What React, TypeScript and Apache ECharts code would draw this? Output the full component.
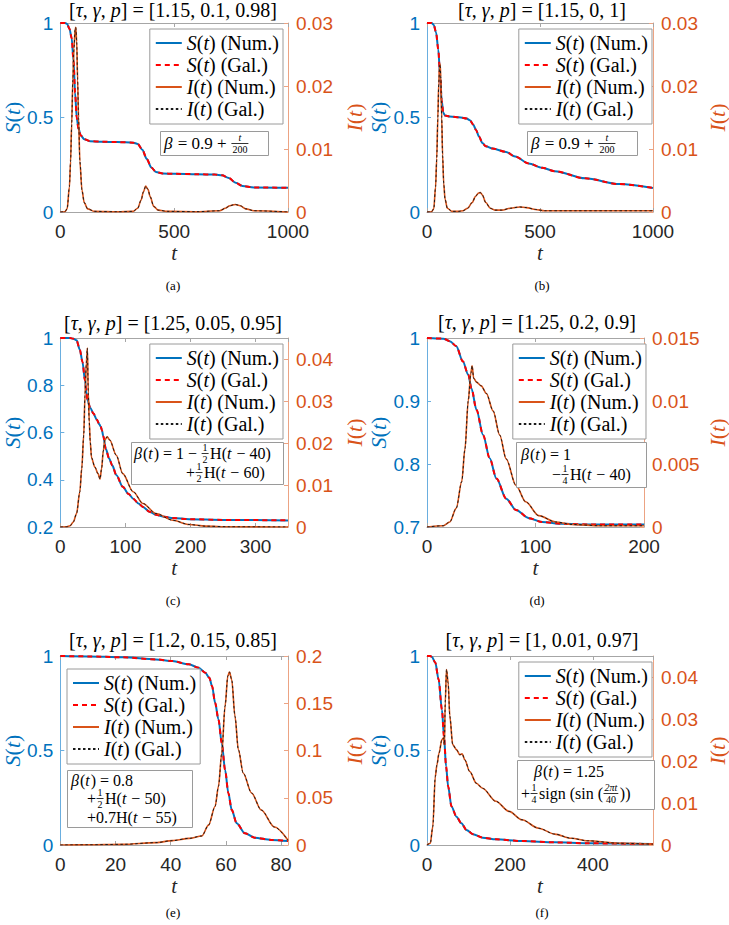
import React, { useEffect, useRef } from 'react';
import * as echarts from 'echarts';

const SERIF = '"Liberation Serif", "Times New Roman", serif';
const SANS = '"Liberation Sans", Arial, Helvetica, sans-serif';
const BLUE = '#0072BD';
const ORANGE = '#D95319';

// ---------- data ----------
// (a) [1.15, 0.1, 0.98]
const tS_a = [0, 20, 30, 40, 50, 58, 65, 72, 80, 90, 105, 130, 180, 250, 320, 340, 360, 380, 400, 420, 450, 500, 600, 680, 710, 740, 770, 800, 850, 1000];
const S_a = [1, 1, 0.995, 0.97, 0.92, 0.8, 0.63, 0.5, 0.44, 0.405, 0.385, 0.375, 0.372, 0.37, 0.367, 0.36, 0.33, 0.28, 0.235, 0.212, 0.204, 0.202, 0.2, 0.198, 0.194, 0.18, 0.155, 0.138, 0.13, 0.128];
const tI_a = [0, 20, 30, 40, 45, 50, 55, 60, 65, 68, 72, 76, 80, 86, 95, 105, 120, 150, 250, 320, 340, 355, 365, 375, 385, 395, 410, 430, 470, 600, 700, 725, 745, 768, 790, 815, 850, 1000];
const I_a = [0, 0.00005, 0.0005, 0.004, 0.008, 0.014, 0.021, 0.026, 0.029, 0.0293, 0.027, 0.021, 0.015, 0.008, 0.0035, 0.0015, 0.0005, 0.0001, 0.00003, 0.0001, 0.0006, 0.0019, 0.0032, 0.0041, 0.0036, 0.0024, 0.0009, 0.0003, 0.0001, 0.00005, 0.0002, 0.0006, 0.001, 0.0012, 0.001, 0.0005, 0.0002, 0];

// (b) [1.15, 0, 1]
const tS_b = [0, 20, 30, 40, 50, 58, 65, 72, 80, 100, 150, 175, 190, 205, 217, 230, 245, 260, 290, 350, 390, 450, 510, 565, 700, 850, 1000];
const S_b = [1, 1, 0.99, 0.95, 0.86, 0.72, 0.59, 0.525, 0.51, 0.505, 0.5, 0.495, 0.485, 0.462, 0.434, 0.4, 0.365, 0.348, 0.336, 0.318, 0.293, 0.257, 0.234, 0.216, 0.178, 0.148, 0.127];
const tI_b = [0, 20, 30, 38, 43, 48, 52, 56, 58, 61, 65, 69, 74, 80, 90, 110, 140, 160, 180, 200, 215, 228, 236, 245, 260, 280, 300, 330, 370, 410, 440, 480, 520, 600, 1000];
const I_b = [0, 0.00005, 0.0005, 0.004, 0.0085, 0.015, 0.0205, 0.0233, 0.0235, 0.0215, 0.015, 0.009, 0.0045, 0.002, 0.0006, 0.0001, 0.0001, 0.0002, 0.0006, 0.0015, 0.0025, 0.003, 0.0031, 0.0027, 0.0015, 0.0006, 0.0003, 0.0003, 0.0006, 0.0008, 0.0007, 0.0004, 0.0002, 0.0002, 0.0002];

// (c) [1.25, 0.05, 0.95]
const tS_c = [0, 15, 20, 25, 30, 34, 38, 40, 42, 46, 51, 56, 60, 62, 64, 66, 70, 75, 80, 86, 96, 105, 112, 120, 127, 137, 147, 160, 173, 198, 250, 350];
const S_c = [1, 1, 0.997, 0.99, 0.95, 0.9, 0.82, 0.77, 0.735, 0.705, 0.68, 0.655, 0.635, 0.625, 0.61, 0.585, 0.53, 0.49, 0.46, 0.42, 0.37, 0.34, 0.32, 0.3, 0.285, 0.265, 0.252, 0.243, 0.238, 0.233, 0.23, 0.228];
const tI_c = [0, 10, 15, 20, 25, 30, 33, 36, 38, 40, 41.6, 43, 44.5, 46, 48, 53, 58, 61, 63.5, 66, 68.5, 72, 76, 86, 96, 112, 127, 147, 173, 198, 223, 260, 350];
const I_c = [0, 0.00005, 0.0003, 0.0012, 0.0032, 0.0084, 0.014, 0.0219, 0.0315, 0.039, 0.0426, 0.032, 0.025, 0.0203, 0.0165, 0.0143, 0.0127, 0.0114, 0.0139, 0.018, 0.0207, 0.0215, 0.0207, 0.0171, 0.0127, 0.0084, 0.0056, 0.0032, 0.0016, 0.0006, 0.0002, 0.00005, 0];

// (d) [1.25, 0.2, 0.9]
const tS_d = [0, 15, 21, 27, 33, 38, 41, 45.6, 51.7, 57.8, 64, 73, 82, 94, 106, 125, 150, 200];
const S_d = [1, 0.999, 0.995, 0.987, 0.963, 0.942, 0.92, 0.886, 0.846, 0.809, 0.777, 0.745, 0.727, 0.714, 0.708, 0.705, 0.704, 0.704];
const tI_d = [0, 15, 21, 27, 32, 35, 38, 40.4, 41.6, 43, 45.6, 50, 54.7, 61, 67, 73, 82, 91, 103, 118.5, 134, 160, 200];
const I_d = [0, 0.0001, 0.0004, 0.0015, 0.0036, 0.0062, 0.01, 0.0122, 0.0128, 0.0118, 0.0115, 0.0112, 0.0106, 0.0092, 0.0073, 0.0054, 0.0033, 0.002, 0.0009, 0.0004, 0.0002, 0.0001, 0.0001];

// (e) [1.2, 0.15, 0.85]
const tS_e = [0, 10, 22.7, 34.6, 40.6, 46.6, 50.1, 52.5, 54, 55, 56.1, 57.3, 58.5, 59.7, 60.9, 62.1, 63.9, 66.9, 70.4, 76.4, 82.5];
const S_e = [1, 0.998, 0.993, 0.982, 0.973, 0.956, 0.938, 0.912, 0.885, 0.84, 0.752, 0.664, 0.54, 0.398, 0.274, 0.186, 0.115, 0.062, 0.039, 0.027, 0.021];
const tI_e = [0, 10, 22.7, 34.6, 40.6, 46.6, 51.3, 53.7, 56.1, 57.3, 58.5, 59.7, 60.7, 61.3, 62.1, 63.3, 64.5, 66.3, 69.3, 72.8, 77.6, 82.5];
const I_e = [0, 0.0002, 0.0007, 0.0025, 0.0046, 0.007, 0.0096, 0.021, 0.041, 0.062, 0.097, 0.147, 0.179, 0.183, 0.175, 0.136, 0.101, 0.076, 0.055, 0.037, 0.019, 0.005];

// (f) [1, 0.01, 0.97]
const tS_f = [0, 8, 12, 20, 28, 36, 41, 46, 51, 59, 71, 83, 95, 111, 134, 166, 229, 308, 387, 545];
const S_f = [1, 1, 0.995, 0.965, 0.876, 0.717, 0.575, 0.416, 0.31, 0.204, 0.15, 0.115, 0.08, 0.057, 0.039, 0.03, 0.021, 0.014, 0.009, 0.005];
const tI_f = [0, 8, 14, 20, 24, 29, 36, 40, 42, 44, 47, 51, 55, 62, 71, 79, 85, 91, 103, 119, 134, 166, 198, 229, 269, 308, 348, 387, 466, 545];
const I_f = [0, 0.0004, 0.0044, 0.0163, 0.0191, 0.0219, 0.0251, 0.0255, 0.0239, 0.0339, 0.0418, 0.0386, 0.0307, 0.0239, 0.0227, 0.0215, 0.0217, 0.0203, 0.0175, 0.0147, 0.0135, 0.0104, 0.008, 0.006, 0.004, 0.0026, 0.0016, 0.001, 0.0004, 0.0002];

const params = ['1.15, 0.1, 0.98', '1.15, 0, 1', '1.25, 0.05, 0.95', '1.25, 0.2, 0.9', '1.2, 0.15, 0.85', '1, 0.01, 0.97'];
const subLabels = ['(a)', '(b)', '(c)', '(d)', '(e)', '(f)'];
const seriesNames = ['S(t) (Num.)', 'S(t) (Gal.)', 'I(t) (Num.)', 'I(t) (Gal.)'];

const panels = [
  { tS: tS_a, S: S_a, tI: tI_a, I: I_a, xMax: 1000, xInt: 500, sMin: 0, sMax: 1, sInt: 0.5, iMax: 0.03, iInt: 0.01 },
  { tS: tS_b, S: S_b, tI: tI_b, I: I_b, xMax: 1000, xInt: 500, sMin: 0, sMax: 1, sInt: 0.5, iMax: 0.03, iInt: 0.01 },
  { tS: tS_c, S: S_c, tI: tI_c, I: I_c, xMax: 350, xInt: 100, sMin: 0.2, sMax: 1, sInt: 0.2, iMax: 0.045, iInt: 0.01 },
  { tS: tS_d, S: S_d, tI: tI_d, I: I_d, xMax: 200, xInt: 100, sMin: 0.7, sMax: 1, sInt: 0.1, iMax: 0.015, iInt: 0.005 },
  { tS: tS_e, S: S_e, tI: tI_e, I: I_e, xMax: 82.5, xInt: 20, sMin: 0, sMax: 1, sInt: 0.5, iMax: 0.2, iInt: 0.05 },
  { tS: tS_f, S: S_f, tI: tI_f, I: I_f, xMax: 545, xInt: 200, sMin: 0, sMax: 1, sInt: 0.5, iMax: 0.045, iInt: 0.01 },
];

// ---------- formula tokens ----------
type Tok = { s?: string; it?: boolean; f?: [string, string]; fit?: boolean };
const B: Tok = { s: 'β', it: true };
const T: Tok = { s: 't', it: true };
const half: Tok = { f: ['1', '2'] };
const quarter: Tok = { f: ['1', '4'] };
const formulas: Tok[][][] = [
  [[B, { s: ' = 0.9 + ' }, { f: ['t', '200'], fit: true }]],
  [[B, { s: ' = 0.9 + ' }, { f: ['t', '200'], fit: true }]],
  [
    [B, { s: '(' }, T, { s: ') = 1 − ' }, half, { s: 'H(' }, T, { s: ' − 40)' }],
    [{ s: '+' }, half, { s: 'H(' }, T, { s: ' − 60)' }],
  ],
  [
    [B, { s: '(' }, T, { s: ') = 1' }],
    [{ s: '−' }, quarter, { s: 'H(' }, T, { s: ' − 40)' }],
  ],
  [
    [B, { s: '(' }, T, { s: ') = 0.8' }],
    [{ s: '+' }, half, { s: 'H(' }, T, { s: ' − 50)' }],
    [{ s: '+0.7H(' }, T, { s: ' − 55)' }],
  ],
  [
    [B, { s: '(' }, T, { s: ') = 1.25' }],
    [{ s: '+' }, quarter, { s: 'sign (sin (' }, { f: ['2πt', '40'], fit: true }, { s: '))' }],
  ],
];

// ---------- layout ----------
const layouts = [
  { grid: { left: 58, top: 23, width: 230, height: 189 }, titleX: 173, titleY: 10, subY: 285, legend: { right: 729 - 283, top: 29 }, lGap: 35, rGap: 55,
    box: { x: 160, y: 131, w: 108, h: 24 }, fs: 17, lines: [{ x: 164, cy: 143 }] },
  { grid: { left: 427, top: 23, width: 230, height: 189 }, titleX: 542, titleY: 10, subY: 285, legend: { right: 729 - 652, top: 29 }, lGap: 38, rGap: 53,
    box: { x: 527, y: 131, w: 110, h: 24 }, fs: 17, lines: [{ x: 531, cy: 143 }] },
  { grid: { left: 58, top: 338, width: 230, height: 189 }, titleX: 173, titleY: 324, subY: 600, legend: { right: 729 - 283, top: 344 }, lGap: 35, rGap: 55,
    box: { x: 131, y: 442, w: 152, h: 42 }, fs: 16, lines: [{ x: 134, cy: 453 }, { x: 186, cy: 472 }] },
  { grid: { left: 427, top: 338, width: 220, height: 189 }, titleX: 537, titleY: 323, subY: 600, legend: { right: 729 - 646, top: 344 }, lGap: 38, rGap: 62,
    box: { x: 516, y: 442, w: 130, h: 45 }, fs: 16, lines: [{ x: 521, cy: 454 }, { x: 552, cy: 474 }] },
  { grid: { left: 58, top: 656, width: 230, height: 189 }, titleX: 173, titleY: 641, subY: 912, legend: { left: 67, top: 669 }, lGap: 36, rGap: 55,
    box: { x: 67, y: 770, w: 125, h: 57 }, fs: 16, lines: [{ x: 71, cy: 780 }, { x: 87, cy: 798 }, { x: 87, cy: 817 }] },
  { grid: { left: 427, top: 656, width: 230, height: 189 }, titleX: 542, titleY: 641, subY: 912, legend: { right: 729 - 652, top: 662 }, lGap: 38, rGap: 53,
    box: { x: 517, y: 760, w: 137, h: 49 }, fs: 16, lines: [{ x: 534, cy: 771 }, { x: 521, cy: 793 }] },
];

const FR = 10;

function txt(x: number, y: number, s: string, size: number, it: boolean, align: string, va: string) {
  return {
    type: 'text', x, y, z: 101, silent: true,
    style: { text: s, fontSize: size, fontFamily: SERIF, fontStyle: it ? 'italic' : 'normal', fill: '#000', align, verticalAlign: va },
  };
}

function formulaEls(ctx: CanvasRenderingContext2D, x0: number, cy: number, toks: Tok[], FS: number) {
  const els: any[] = [];
  let x = x0;
  const font = (size: number, it?: boolean) => `${it ? 'italic ' : ''}${size}px "Liberation Serif"`;
  for (const tk of toks) {
    if (tk.f) {
      ctx.font = font(FR, tk.fit);
      const wn = ctx.measureText(tk.f[0]).width;
      ctx.font = font(FR);
      const wd = ctx.measureText(tk.f[1]).width;
      const w = Math.max(wn, wd) + 3;
      const cx = x + w / 2;
      els.push(txt(cx, cy - 0.5, tk.f[0], FR, !!tk.fit, 'center', 'bottom'));
      els.push(txt(cx, cy + 1.5, tk.f[1], FR, false, 'center', 'top'));
      els.push({ type: 'line', z: 101, silent: true, shape: { x1: x + 0.5, y1: cy + 0.5, x2: x + w - 0.5, y2: cy + 0.5 }, style: { stroke: '#000', lineWidth: 0.8 } });
      x += w + 1;
    } else {
      const s = tk.s || '';
      ctx.font = font(FS, tk.it);
      const w = ctx.measureText(s).width;
      els.push(txt(x, cy, s, FS, !!tk.it, 'left', 'middle'));
      x += w + (tk.it ? 1 : 0);
    }
  }
  return els;
}

const mk = (t: number[], v: number[]) => t.map((x, k) => [x, v[k]]);

function legendFormatter(name: string) {
  const v = name[0];
  const rest = name.slice(4);
  return `{i|${v}}{n|(}{i|t}{n|)${rest}}`;
}

const plainNum = (v: number) => String(+v.toFixed(6));

function buildOption() {
  const canvas = document.createElement('canvas');
  const ctx = canvas.getContext('2d') as CanvasRenderingContext2D;
  const grid: any[] = [], xAxis: any[] = [], yAxis: any[] = [], series: any[] = [], legend: any[] = [], title: any[] = [], graphic: any[] = [];
  const gray = '#a6a6a6';
  const lightBlue = '#6aaedf';
  const lightOrange = '#eca383';
  const richTxt = (color: string, size: number) => ({
    i: { fontFamily: SERIF, fontStyle: 'italic', fontSize: size, color },
    n: { fontFamily: SERIF, fontSize: size, color },
  });
  const notMultiple = (a: number, b: number) => Math.abs(a / b - Math.round(a / b)) > 1e-9;

  panels.forEach((p, i) => {
    const L = layouts[i];
    grid.push({ ...L.grid, show: false, containLabel: false });
    xAxis.push({
      gridIndex: i, type: 'value', position: 'bottom', min: 0, max: p.xMax, interval: p.xInt,
      name: 't', nameLocation: 'middle', nameGap: 30,
      nameTextStyle: { fontFamily: SERIF, fontStyle: 'italic', fontSize: 21, color: '#262626' },
      axisLine: { show: true, onZero: false, lineStyle: { color: gray, width: 1 } },
      axisTick: { show: true, inside: true, length: 4, lineStyle: { color: gray } },
      axisLabel: { color: '#262626', fontFamily: SANS, fontSize: 19, margin: 10, formatter: plainNum, showMaxLabel: notMultiple(p.xMax, p.xInt) ? false : true },
      splitLine: { show: false },
    });
    xAxis.push({
      gridIndex: i, type: 'value', position: 'top', min: 0, max: p.xMax, interval: p.xInt,
      axisLine: { show: true, onZero: false, lineStyle: { color: gray, width: 1 } },
      axisTick: { show: true, inside: true, length: 4, lineStyle: { color: gray } },
      axisLabel: { show: false },
      splitLine: { show: false },
    });
    yAxis.push({
      gridIndex: i, type: 'value', position: 'left', min: p.sMin, max: p.sMax, interval: p.sInt,
      name: '{i|S}{n|(}{i|t}{n|)}', nameLocation: 'middle', nameGap: L.lGap, nameRotate: 90,
      nameTextStyle: { color: BLUE, fontFamily: SERIF, fontSize: 22, rich: richTxt(BLUE, 22) },
      axisLine: { show: true, onZero: false, lineStyle: { color: lightBlue, width: 1 } },
      axisTick: { show: true, inside: true, length: 4, lineStyle: { color: lightBlue } },
      axisLabel: { color: BLUE, fontFamily: SANS, fontSize: 19, margin: 7, formatter: plainNum },
      splitLine: { show: false },
    });
    yAxis.push({
      gridIndex: i, type: 'value', position: 'right', min: 0, max: p.iMax, interval: p.iInt,
      name: '{i|I}{n|(}{i|t}{n|)}', nameLocation: 'middle', nameGap: L.rGap, nameRotate: 90,
      nameTextStyle: { color: ORANGE, fontFamily: SERIF, fontSize: 22, rich: richTxt(ORANGE, 22) },
      axisLine: { show: true, onZero: false, lineStyle: { color: lightOrange, width: 1 } },
      axisTick: { show: true, inside: true, length: 4, lineStyle: { color: lightOrange } },
      axisLabel: { color: ORANGE, fontFamily: SANS, fontSize: 19, margin: 8, formatter: plainNum, showMaxLabel: notMultiple(p.iMax, p.iInt) ? false : true },
      splitLine: { show: false },
    });
    const common = { type: 'line', xAxisIndex: 2 * i, symbol: 'none', showSymbol: false, smooth: 0.3, smoothMonotone: 'x', silent: true };
    series.push({ ...common, name: seriesNames[0], yAxisIndex: 2 * i, data: mk(p.tS, p.S), itemStyle: { color: BLUE }, lineStyle: { color: BLUE, width: 2 }, z: 2 });
    series.push({ ...common, name: seriesNames[1], yAxisIndex: 2 * i, data: mk(p.tS, p.S), itemStyle: { color: '#FF0000' }, lineStyle: { color: '#FF0000', width: 2, type: [5, 4] }, z: 3 });
    series.push({ ...common, name: seriesNames[2], yAxisIndex: 2 * i + 1, data: mk(p.tI, p.I), itemStyle: { color: ORANGE }, lineStyle: { color: ORANGE, width: 1.6 }, z: 4 });
    series.push({ ...common, name: seriesNames[3], yAxisIndex: 2 * i + 1, data: mk(p.tI, p.I), itemStyle: { color: '#000' }, lineStyle: { color: '#1a1a1a', width: 1, type: [2.5, 2.5] }, z: 5 });

    legend.push({
      ...L.legend, orient: 'vertical', data: seriesNames, selectedMode: false,
      itemWidth: 26, itemHeight: 14, itemGap: 0, padding: [3, 4, 4, 5],
      borderColor: '#9a9a9a', borderWidth: 1, borderRadius: 0, backgroundColor: '#fff',
      itemStyle: { opacity: 0, borderWidth: 0 },
      formatter: legendFormatter,
      textStyle: { fontFamily: SERIF, fontSize: 20, color: '#000', lineHeight: 22, rich: {
        i: { fontFamily: SERIF, fontStyle: 'italic', fontSize: 20, color: '#000', lineHeight: 22 },
        n: { fontFamily: SERIF, fontSize: 20, color: '#000', lineHeight: 22 },
      } },
      z: 20,
    });

    title.push({
      text: `{n|[}{i|τ}{n|, }{i|γ}{n|, }{i|p}{n|] = [${params[i]}]}`,
      left: L.titleX, top: Math.max(0, L.titleY - 11), textAlign: 'center', padding: 0,
      textStyle: { fontFamily: SERIF, fontSize: 20, fontWeight: 'normal', color: '#000', rich: richTxt('#000', 20) },
    });

    const cx = L.grid.left + L.grid.width / 2;
    graphic.push(txt(cx, L.subY, subLabels[i], 13, false, 'center', 'middle'));

    graphic.push({
      type: 'rect', z: 100, silent: true,
      shape: { x: L.box.x + 0.5, y: L.box.y + 0.5, width: L.box.w, height: L.box.h },
      style: { fill: '#fff', stroke: '#9a9a9a', lineWidth: 1 },
    });
    formulas[i].forEach((line, k) => {
      const pos = L.lines[k];
      graphic.push(...formulaEls(ctx, pos.x, pos.cy, line, L.fs));
    });
  });

  return {
    animation: false,
    backgroundColor: '#fff',
    title, grid, xAxis, yAxis, series, legend, graphic,
  };
}

export default function App() {
  const ref = useRef<HTMLDivElement>(null);
  useEffect(() => {
    if (!ref.current) return;
    const chart = echarts.init(ref.current, null, { renderer: 'svg' });
    chart.setOption(buildOption() as any);
    return () => chart.dispose();
  }, []);
  return <div ref={ref} style={{ position: 'absolute', left: 0, top: 0, width: 729, height: 925 }} />;
}
